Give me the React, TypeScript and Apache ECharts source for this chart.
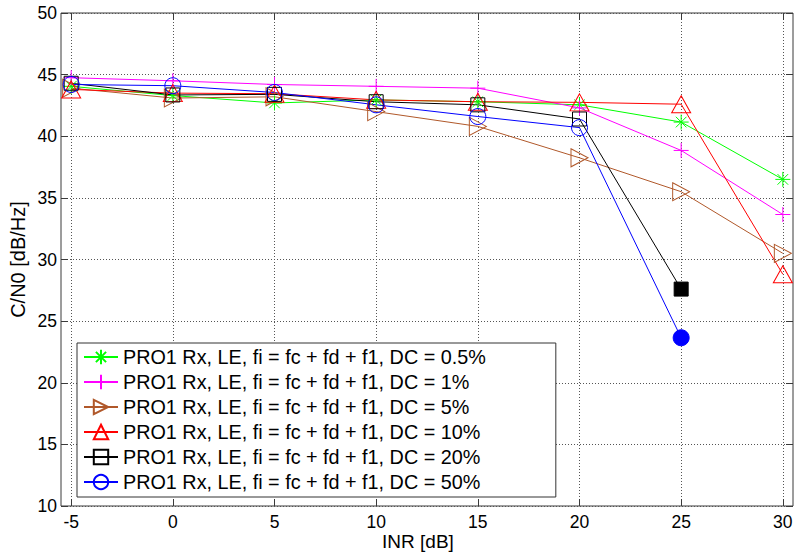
import React, { useEffect, useRef } from "react";
import * as echarts from "echarts";

const inr = [-5, 0, 5, 10, 15, 20, 25, 30];
const dc05 = [44.05, 43.3, 42.7, 42.95, 42.8, 42.55, 41.15, 36.5];
const dc1 = [44.75, 44.5, 44.2, 44.05, 43.9, 42.3, 38.85, 33.65];
const dc5 = [43.9, 43.1, 43.2, 42.0, 40.8, 38.25, 35.5, 30.5];
const dc10 = [43.8, 43.5, 43.45, 42.95, 42.8, 42.75, 42.6, 28.8];
const dc20 = [44.3, 43.35, 43.4, 42.8, 42.55, 41.4, 27.6];
const dc50 = [44.2, 44.1, 43.55, 42.55, 41.6, 40.7, 23.65];
const xTicks = [-5, 0, 5, 10, 15, 20, 25, 30];
const seriesNames = [
  "PRO1 Rx, LE, fi = fc + fd + f1, DC = 0.5%",
  "PRO1 Rx, LE, fi = fc + fd + f1, DC = 1%",
  "PRO1 Rx, LE, fi = fc + fd + f1, DC = 5%",
  "PRO1 Rx, LE, fi = fc + fd + f1, DC = 10%",
  "PRO1 Rx, LE, fi = fc + fd + f1, DC = 20%",
  "PRO1 Rx, LE, fi = fc + fd + f1, DC = 50%",
];

const FONT = "'Liberation Sans', Arial, sans-serif";
const FRAME = "#3a3a3a";

const STAR = "path://M0,-1L0,1M-1,0L1,0M-0.707,-0.707L0.707,0.707M-0.707,0.707L0.707,-0.707";
const PLUS = "path://M0,-1L0,1M-1,0L1,0";
const RIGHT_TRI = "path://M0,0L10,5L0,10Z";

function makeSeries(
  name: string,
  values: number[],
  color: string,
  symbol: string,
  size: number | number[],
  hollow: boolean,
  filledLast: boolean
) {
  return {
    name,
    type: "line",
    data: values.map((v, i) => {
      const item: any = { value: [inr[i], v] };
      if (filledLast && i === values.length - 1) {
        item.itemStyle = { color, borderColor: color };
      }
      return item;
    }),
    symbol,
    symbolSize: size,
    showAllSymbol: true,
    lineStyle: { color, width: 1 },
    itemStyle: {
      color: hollow ? "rgba(0,0,0,0)" : color,
      borderColor: color,
      borderWidth: 1,
    },
    emphasis: { disabled: true },
    z: 3,
  };
}

export default function App() {
  const ref = useRef<HTMLDivElement>(null);
  useEffect(() => {
    document.body.style.margin = "0";
    if (!ref.current) return;
    const chart = echarts.init(ref.current, undefined, { renderer: "svg" });
    const tickStyle = { show: true, inside: true, length: 7, lineStyle: { color: FRAME } };
    const option: any = {
      animation: false,
      backgroundColor: "#ffffff",
      textStyle: { fontFamily: FONT },
      grid: {
        left: 61,
        right: 3,
        top: 13,
        bottom: 49,
        containLabel: false,
        outerBoundsMode: "none",
        show: true,
        borderColor: FRAME,
        borderWidth: 1,
        backgroundColor: "#ffffff",
      },
      legend: {
        orient: "vertical",
        left: 77,
        top: 343,
        itemWidth: 34,
        itemHeight: 18,
        itemGap: 5,
        padding: [4, 70, 5, 6],
        borderColor: "#333333",
        borderWidth: 1,
        backgroundColor: "#ffffff",
        textStyle: { fontSize: 19.8, color: "#000", fontFamily: FONT },
        data: seriesNames,
        selectedMode: false,
      },
      xAxis: [
        {
          type: "value",
          min: -5.5,
          max: 30.5,
          position: "bottom",
          name: "INR [dB]",
          nameLocation: "middle",
          nameGap: 26,
          nameMoveOverlap: false,
          nameTextStyle: { fontSize: 19, color: "#000", fontFamily: FONT, padding: [0, 18, 0, 0] },
          axisLine: { show: false, onZero: false },
          axisTick: { ...tickStyle, customValues: xTicks },
          axisLabel: { customValues: xTicks, fontSize: 17.5, color: "#000", margin: 7, fontFamily: FONT },
          splitLine: { show: true, lineStyle: { color: "#555", type: [1, 2], width: 1 } },
        },
        {
          type: "value",
          min: -5.5,
          max: 30.5,
          position: "top",
          axisLine: { show: false, onZero: false },
          axisTick: { ...tickStyle, customValues: xTicks },
          axisLabel: { show: false },
          splitLine: { show: false },
        },
      ],
      yAxis: [
        {
          type: "value",
          min: 10,
          max: 50,
          interval: 5,
          position: "left",
          name: "C/N0 [dB/Hz]",
          nameLocation: "middle",
          nameGap: 33,
          nameMoveOverlap: false,
          nameTextStyle: { fontSize: 20, color: "#000", fontFamily: FONT },
          axisLine: { show: false, onZero: false },
          axisTick: tickStyle,
          axisLabel: { fontSize: 17.5, color: "#000", margin: 4, fontFamily: FONT },
          splitLine: { show: true, lineStyle: { color: "#555", type: [1, 2], width: 1 } },
        },
        {
          type: "value",
          min: 10,
          max: 50,
          interval: 5,
          position: "right",
          axisLine: { show: false, onZero: false },
          axisTick: tickStyle,
          axisLabel: { show: false },
          splitLine: { show: false },
        },
      ],
      series: [
        makeSeries(seriesNames[0], dc05, "#00ff00", STAR, 15, false, false),
        makeSeries(seriesNames[1], dc1, "#ff00ff", PLUS, 15, false, false),
        makeSeries(seriesNames[2], dc5, "#b0582a", RIGHT_TRI, [17, 18], true, false),
        makeSeries(seriesNames[3], dc10, "#ff0000", "triangle", [19, 17], true, false),
        makeSeries(seriesNames[4], dc20, "#000000", "rect", 14, true, true),
        makeSeries(seriesNames[5], dc50, "#0000ff", "circle", 16, true, true),
      ],
    };
    chart.setOption(option);
    return () => chart.dispose();
  }, []);
  return <div ref={ref} style={{ width: 796, height: 555 }} />;
}
